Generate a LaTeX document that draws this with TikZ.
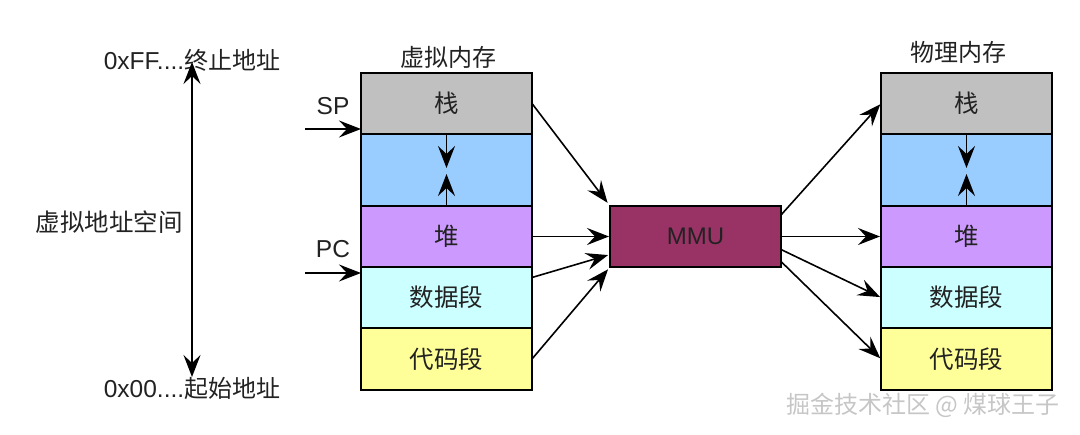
\documentclass[tikz,border=0pt]{standalone}
\usepackage{fontspec}
\setmainfont{Liberation Sans}
\newfontfamily\cjk{Noto Sans CJK SC}
\usetikzlibrary{arrows.meta,calc}
\definecolor{cstack}{HTML}{C0C0C0}
\definecolor{cgap}{HTML}{99CCFF}
\definecolor{cheap}{HTML}{CC99FF}
\definecolor{cdata}{HTML}{CCFFFF}
\definecolor{ccode}{HTML}{FFFF99}
\definecolor{cmmu}{HTML}{993366}
\definecolor{ctext}{HTML}{222222}
\tikzset{
  seg/.style={draw=black, line width=1.4pt, minimum width=171pt, inner sep=0pt, outer sep=0pt, text=ctext, font=\cjk\fontsize{24.5}{28}\selectfont},
  lbl/.style={text=ctext, inner sep=0pt, font=\fontsize{24.5}{28}\selectfont},
  arr/.style={line width=1.6pt, -{Stealth[length=22pt,width=17pt,inset=8pt]}},
  darr/.style={line width=1.6pt, {Stealth[length=22pt,width=17pt,inset=8pt]}-{Stealth[length=22pt,width=17pt,inset=8pt]}}
}
\begin{document}
\begin{tikzpicture}[x=1pt,y=-1pt]
\useasboundingbox (0,0) rectangle (1080,435);
% virtual memory
\node[seg, fill=cstack, minimum height=61pt] (vstack) at (446.5,103.5) {栈};
\node[seg, fill=cgap, minimum height=72pt] (vgap) at (446.5,170) {};
\node[seg, fill=cheap, minimum height=61pt] (vheap) at (446.5,236.5) {堆};
\node[seg, fill=cdata, minimum height=61pt] (vdata) at (446.5,297.5) {数据段};
\node[seg, fill=ccode, minimum height=62pt] (vcode) at (446.5,359) {代码段};
% physical memory
\node[seg, fill=cstack, minimum height=61pt] (pstack) at (966.5,103.5) {栈};
\node[seg, fill=cgap, minimum height=72pt] (pgap) at (966.5,170) {};
\node[seg, fill=cheap, minimum height=61pt] (pheap) at (966.5,236.5) {堆};
\node[seg, fill=cdata, minimum height=61pt] (pdata) at (966.5,297.5) {数据段};
\node[seg, fill=ccode, minimum height=62pt] (pcode) at (966.5,359) {代码段};
% MMU
\node[draw=black, line width=1.4pt, fill=cmmu, minimum width=171pt, minimum height=61pt, inner sep=0pt, outer sep=0pt, text=ctext, font=\fontsize{24}{28}\selectfont] (mmu) at (695.5,236.5) {MMU};
% titles
\node[lbl, font=\cjk\fontsize{24}{28}\selectfont] (vtitle) at (448,57) {虚拟内存};
\node[lbl, font=\cjk\fontsize{24}{28}\selectfont] (ptitle) at (958,52) {物理内存};
% SP / PC
\node[lbl] (sp) at (333,106) {SP};
\node[lbl] (pc) at (333,249) {PC};
\coordinate (spstart) at (305,129);
\coordinate (pcstart) at (305,273);
\draw[arr] (spstart) -- ([yshift=5pt]vstack.south west);
\draw[arr] (pcstart) -- ([yshift=-6pt]vdata.north west);
% inner arrows
\coordinate (vdown) at (446.5,168);
\coordinate (vup) at (446.5,174);
\coordinate (pdown) at (966.5,168);
\coordinate (pup) at (966.5,174);
\draw[arr] (vstack.south) -- (vdown);
\draw[arr] (vheap.north) -- (vup);
\draw[arr] (pstack.south) -- (pdown);
\draw[arr] (pheap.north) -- (pup);
% into MMU
\draw[arr, shorten >=4pt] (vstack.east) -- (mmu.north west);
\draw[arr, shorten >=1pt] (vheap.east) -- (mmu.west);
\draw[arr, shorten >=2pt] ([yshift=20pt]vdata.east) -- ([yshift=-18pt]mmu.west);
\draw[arr, shorten >=3pt] (vcode.east) -- (mmu.south west);
% out of MMU
\draw[arr, shorten >=1pt] ([yshift=21.5pt]mmu.east) -- (pstack.west);
\draw[arr, shorten >=1pt] (mmu.east) -- (pheap.west);
\draw[arr, shorten >=1pt] ([yshift=-13pt]mmu.east) -- (pdata.west);
\draw[arr, shorten >=1pt] ([yshift=-25pt]mmu.east) -- (pcode.west);
% address space
\node[lbl] (top) at (192,60) {0xFF....{\cjk\fontsize{24}{28}\selectfont 终止地址}};
\node[lbl] (bot) at (192,388) {0x00....{\cjk\fontsize{24}{28}\selectfont 起始地址}};
\node[lbl, font=\cjk\fontsize{24.5}{28}\selectfont] (space) at (109,222) {虚拟地址空间};
\coordinate (atop) at (192,62);
\coordinate (abot) at (192,377);
\draw[darr] (atop) -- (abot);
% watermark
\node[lbl, text=gray!45, font=\cjk\fontsize{24}{28}\selectfont] (wm) at (923,405) {掘金技术社区 @ 煤球王子};
\end{tikzpicture}
\end{document}
